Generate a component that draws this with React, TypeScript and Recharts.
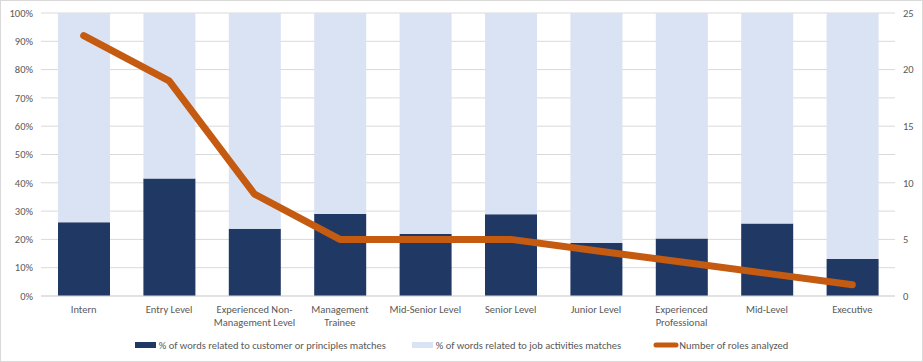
import React from "react";
import {
  ComposedChart,
  Bar,
  Line,
  XAxis,
  YAxis,
  CartesianGrid,
  Legend,
} from "recharts";

const categories = [
  "Intern",
  "Entry Level",
  "Experienced Non-\nManagement Level",
  "Management\nTrainee",
  "Mid-Senior Level",
  "Senior Level",
  "Junior Level",
  "Experienced\nProfessional",
  "Mid-Level",
  "Executive",
];
const customerPct = [0.261, 0.415, 0.238, 0.29, 0.219, 0.289, 0.187, 0.203, 0.256, 0.131];
const rolesAnalyzed = [23, 19, 9, 5, 5, 5, 4, 3, 2, 1];
const leftTicks = [0, 0.1, 0.2, 0.3, 0.4, 0.5, 0.6, 0.7, 0.8, 0.9, 1];
const rightTicks = [0, 5, 10, 15, 20, 25];
const seriesNames = [
  "% of words related to customer or principles matches",
  "% of words related to job activities matches",
  "Number of roles analyzed",
];

const data = categories.map((c, i) => ({
  cat: c,
  customer: customerPct[i],
  job: 1 - customerPct[i],
  roles: rolesAnalyzed[i],
}));

const NAVY = "#203864";
const LIGHT = "#DAE3F3";
const ORANGE = "#C55A11";
const TEXT = "#595959";
const GRID = "#D9D9D9";
const FONT = "Calibri, Carlito, 'Liberation Sans', Arial, sans-serif";
const FS = 10.5;

const XTick = (props: any) => {
  const { x, y, payload } = props;
  const lines = String(payload.value).split("\n");
  return (
    <text x={x} y={y} textAnchor="middle" fill={TEXT} fontSize={FS} fontFamily={FONT}>
      {lines.map((l, i) => (
        <tspan key={i} x={x} dy={i === 0 ? 9 : 13}>
          {l}
        </tspan>
      ))}
    </text>
  );
};

const LegendContent = () => (
  <div
    style={{
      display: "flex",
      justifyContent: "center",
      alignItems: "center",
      height: 24,
      fontFamily: FONT,
      fontSize: FS,
      color: TEXT,
    }}
  >
    <div style={{ display: "flex", alignItems: "center", marginRight: 26 }}>
      <div style={{ width: 21, height: 6, background: NAVY, marginRight: 3 }} />
      <span>{seriesNames[0]}</span>
    </div>
    <div style={{ display: "flex", alignItems: "center", marginRight: 32 }}>
      <div style={{ width: 21, height: 6, background: LIGHT, marginRight: 3 }} />
      <span>{seriesNames[1]}</span>
    </div>
    <div style={{ display: "flex", alignItems: "center" }}>
      <svg width={26} height={8} style={{ marginRight: 0 }}>
        <line x1={3} y1={4} x2={23} y2={4} stroke={ORANGE} strokeWidth={5} strokeLinecap="round" />
      </svg>
      <span>{seriesNames[2]}</span>
    </div>
  </div>
);

export default function App() {
  return (
    <div style={{ position: "absolute", left: 0, top: 0, width: 923, height: 362, background: "#fff" }}>
      <ComposedChart
        width={923}
        height={362}
        data={data}
        margin={{ top: 13, right: 0, bottom: 5, left: 0 }}
        barSize={52}
        barGap={0}
      >
        <CartesianGrid yAxisId="left" vertical={false} stroke={GRID} strokeWidth={1} />
        <XAxis
          dataKey="cat"
          height={37}
          interval={0}
          tickLine={false}
          axisLine={{ stroke: GRID }}
          tick={<XTick />}
        />
        <YAxis
          yAxisId="left"
          width={41}
          domain={[0, 1]}
          ticks={leftTicks}
          tickFormatter={(v: number) => `${Math.round(v * 100)}%`}
          axisLine={false}
          tickLine={false}
          tick={{ fill: TEXT, fontSize: FS, fontFamily: FONT }}
        />
        <YAxis
          yAxisId="right"
          orientation="right"
          width={28}
          domain={[0, 25]}
          ticks={rightTicks}
          axisLine={false}
          tickLine={false}
          tick={{ fill: TEXT, fontSize: FS, fontFamily: FONT, textAnchor: "start" }}
        />
        <Legend verticalAlign="bottom" height={24} content={<LegendContent />} />
        <Bar
          yAxisId="left"
          dataKey="customer"
          stackId="a"
          fill={NAVY}
          name={seriesNames[0]}
          isAnimationActive={false}
        />
        <Bar
          yAxisId="left"
          dataKey="job"
          stackId="a"
          fill={LIGHT}
          name={seriesNames[1]}
          isAnimationActive={false}
        />
        <Line
          yAxisId="right"
          dataKey="roles"
          type="linear"
          stroke={ORANGE}
          strokeWidth={7}
          strokeLinecap="round"
          strokeLinejoin="round"
          dot={false}
          activeDot={false}
          name={seriesNames[2]}
          isAnimationActive={false}
        />
      </ComposedChart>
      <div
        style={{
          position: "absolute",
          left: 0,
          top: 0,
          width: 923,
          height: 362,
          boxSizing: "border-box",
          border: "1px solid #D9D9D9",
          pointerEvents: "none",
        }}
      />
    </div>
  );
}
